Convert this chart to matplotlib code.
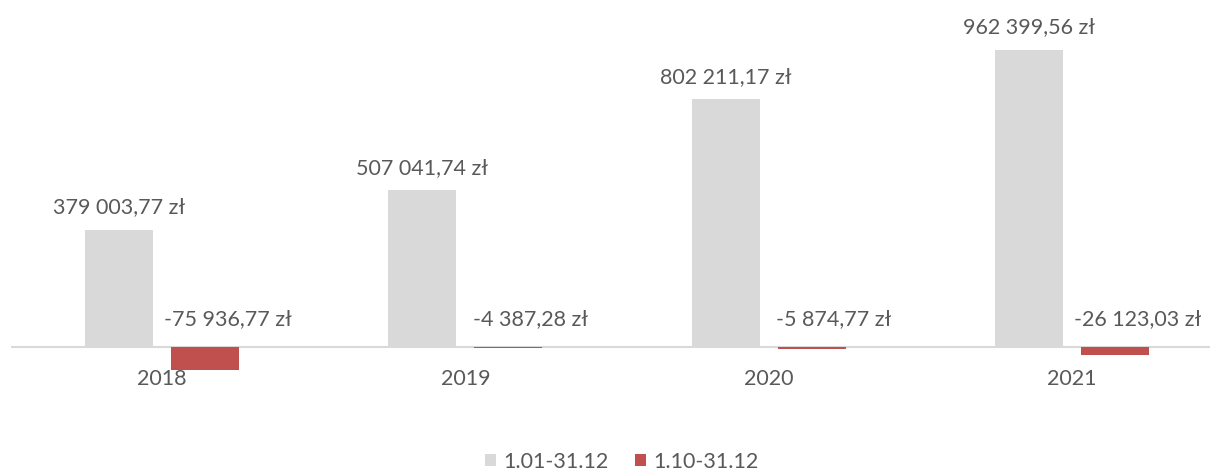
import matplotlib
matplotlib.use("Agg")
import matplotlib.pyplot as plt
import numpy as np

categories = ["2018", "2019", "2020", "2021"]
series_names = ["1.01-31.12", "1.10-31.12"]
full_year = [379003.77, 507041.74, 802211.17, 962399.56]
q4 = [-75936.77, -4387.28, -5874.77, -26123.03]
colors = ["#D9D9D9", "#C0504D"]
text_color = "#595959"

def fmt(v):
    s = f"{abs(v):,.2f}".replace(",", " ").replace(".", ",")
    return ("-" if v < 0 else "") + s + " zł"

plt.rcParams['font.family'] = ['Lato', 'DejaVu Sans']
fs = 15.5

fig = plt.figure(figsize=(12.1, 4.7), dpi=100)
ax = fig.add_axes([10.5/1210, 70/470, 1213/1210, 390/470])

x = np.arange(len(categories))
w = 0.224
off = 0.142
b1 = ax.bar(x - off, full_year, w, color=colors[0], label=series_names[0])
b2 = ax.bar(x + off, q4, w, color=colors[1], label=series_names[1])

for xi, v in zip(x - off, full_year):
    ax.annotate(fmt(v), (xi, v), xytext=(0, 9), textcoords="offset points",
                ha="center", va="bottom", fontsize=fs, color=text_color)
for xi, v in zip(x + off, q4):
    ax.annotate(fmt(v), (xi, 0), xytext=(16, 13), textcoords="offset points",
                ha="center", va="bottom", fontsize=fs, color=text_color)

ax.set_xlim(-0.5, 3.5)
ax.set_ylim(-171700, 1091600)
ax.axhline(0, color="#D9D9D9", lw=1.5, zorder=0)
ax.set_xticks(x)
ax.set_xticklabels(categories, fontsize=fs, color=text_color)
ax.tick_params(axis="x", length=0, pad=-22)
ax.set_yticks([])
for s in ax.spines.values():
    s.set_visible(False)

fig.legend(handles=[b1, b2], labels=series_names, loc="lower center",
           bbox_to_anchor=(0.514, -0.045), ncol=2, frameon=False, fontsize=fs,
           labelcolor=text_color, handlelength=0.5, handleheight=0.5,
           handletextpad=0.35, columnspacing=1.2)

fig.savefig("out.png", dpi=100)
